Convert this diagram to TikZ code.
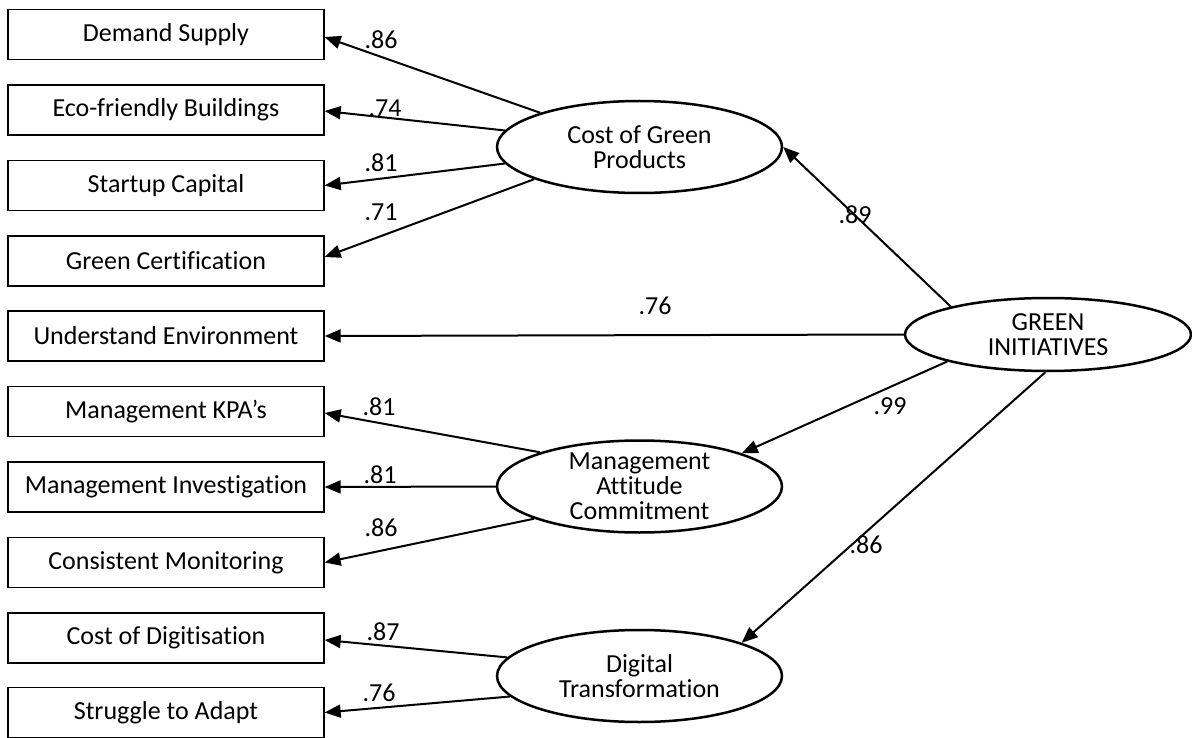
\documentclass[tikz,border=0pt]{standalone}
\usepackage{fontspec}
\setmainfont{Carlito}[Ligatures=NoCommon]
\usetikzlibrary{shapes.geometric,arrows.meta,calc}
\begin{document}
\begin{tikzpicture}[x=1pt,y=1pt,
  every node/.style={font=\fontsize{26}{25}\selectfont},
  obs/.style={draw,line width=1.3pt,minimum width=316pt,minimum height=50pt,inner sep=0pt},
  latent/.style={draw,ellipse,line width=2.5pt,minimum width=285pt,minimum height=92pt,inner sep=0pt},
  lattext/.style={align=center,inner sep=0pt,font=\fontsize{26}{25}\selectfont},
  coef/.style={inner sep=0pt},
  path/.style={line width=2pt,-{Triangle[length=16pt,width=13pt]}}]
\useasboundingbox (0,0) rectangle (1192,-738);
% observed boxes
\node[obs] (ds) at (166,-34.5) {Demand Supply};
\node[obs] (eb) at (166,-110) {Eco-friendly Buildings};
\node[obs] (sc) at (166,-185.5) {Startup Capital};
\node[obs] (gc) at (166,-261) {Green Certification};
\node[obs] (ue) at (166,-336) {Understand Environment};
\node[obs] (mk) at (166,-411.5) {Management KPA’s};
\node[obs] (mi) at (166,-487) {Management Investigation};
\node[obs] (cm) at (166,-562.5) {Consistent Monitoring};
\node[obs] (cd) at (166,-638) {Cost of Digitisation};
\node[obs] (sa) at (166,-712.5) {Struggle to Adapt};
% latent ellipses
\node[latent,label={[lattext]center:Cost of Green\\Products}] (cgp) at (639.5,-147) {};
\node[latent,label={[lattext]center:Management\\Attitude\\Commitment}] (mac) at (639.5,-486.5) {};
\node[latent,label={[lattext]center:Digital\\Transformation}] (dt) at (639.5,-676) {};
\node[latent,minimum width=286pt,minimum height=73pt,label={[lattext]center:GREEN\\INITIATIVES}] (gi) at (1048,-334.5) {};
% loadings of Cost of Green Products
\draw[path] (cgp.161.5) -- ($(ds.east)+(0,-2.5)$);
\draw[path] (cgp.173.7) -- ($(eb.east)+(0,-1)$);
\draw[path] (cgp.187.3) -- (sc.east);
\draw[path] (cgp.197.8) -- ($(gc.east)+(0,4)$);
% Management
\draw[path] (mac.161.7) -- ($(mk.east)+(0,-1.5)$);
\draw[path] (mac.180) -- (mi.east);
\draw[path] (mac.197.8) -- (cm.east);
% Digital
\draw[path] (dt.172.3) -- ($(cd.east)+(0,-2)$);
\draw[path] (dt.189) -- (sa.east);
% Green initiatives
\draw[path] (gi.164.8) -- (cgp.0);
\draw[path] (gi.180) -- (ue.east);
\draw[path] (gi.195.2) -- (mac.18);
\draw[path] (gi.266) -- (dt.18);
% coefficients
\node[coef] (c1) at (381,-40) {.86};
\node[coef] (c2) at (385,-108) {.74};
\node[coef] (c3) at (381,-163) {.81};
\node[coef] (c4) at (381,-212) {.71};
\node[coef] (c5) at (655,-306) {.76};
\node[coef] (c6) at (855,-215) {.89};
\node[coef] (c7) at (890,-406) {.99};
\node[coef] (c8) at (379,-407) {.81};
\node[coef] (c9) at (380,-475) {.81};
\node[coef] (c10) at (381,-528) {.86};
\node[coef] (c11) at (383,-632) {.87};
\node[coef] (c12) at (379,-693) {.76};
\node[coef] (c13) at (866,-545) {.86};
\end{tikzpicture}
\end{document}
